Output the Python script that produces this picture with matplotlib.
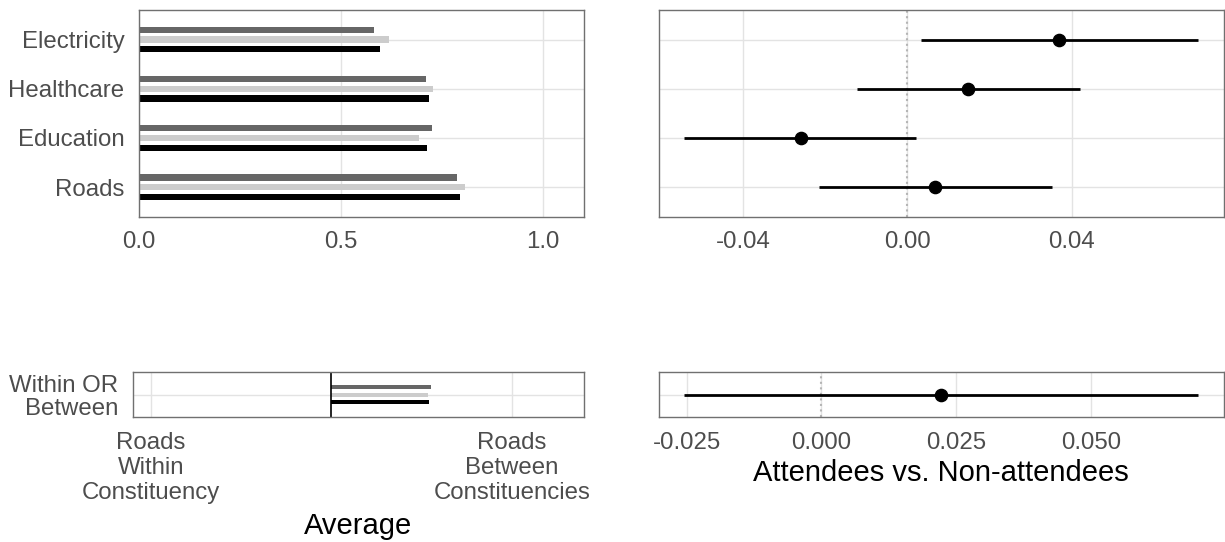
import numpy
import matplotlib
matplotlib.use('Agg')
import matplotlib.pyplot as plt

plt.rcParams['font.family'] = ['Liberation Sans', 'DejaVu Sans']

# ---- data ----
categories = ['Roads', 'Education', 'Healthcare', 'Electricity']
avg_dark = [0.787, 0.726, 0.710, 0.582]
avg_light = [0.807, 0.692, 0.728, 0.619]
avg_black = [0.795, 0.712, 0.717, 0.596]

diff_est = [0.0068, -0.0260, 0.0148, 0.0369]
diff_lo = [-0.0215, -0.0543, -0.0124, 0.0032]
diff_hi = [0.0353, 0.0022, 0.0419, 0.0708]

wb_label = 'Within OR\nBetween'
wb_ticklabels = ['Roads\nWithin\nConstituency', 'Roads\nBetween\nConstituencies']
wb_dark = 0.775
wb_light = 0.769
wb_black = 0.772
wb_base = 0.5

wb_est = 0.0222
wb_lo = -0.0254
wb_hi = 0.0699

# ---- styling ----
W, H = 1225, 542
cdark = '#666666'
clight = '#cccccc'
cblack = '#000000'
gridc = '#e3e3e3'
framec = '#707070'
tickc = '#4d4d4d'
tfs = 17.3
lfs = 21

fig = plt.figure(figsize=(W/100.0, H/100.0), dpi=100)

def px_axes(x0, y0, x1, y1):
    return fig.add_axes([x0/W, 1 - y1/H, (x1-x0)/W, (y1-y0)/H])

def style(ax):
    for s in ax.spines.values():
        s.set_color(framec)
        s.set_linewidth(1.0)
    ax.tick_params(length=0, labelsize=tfs, labelcolor=tickc, pad=10.5)
    ax.set_axisbelow(True)
    ax.grid(True, color=gridc, linewidth=1.0)

def expand(lo, hi, f=0.05):
    r = hi - lo
    return lo - f*r, hi + f*r

ypos = numpy.arange(len(categories)) + 1
off = 0.198
bh = 0.127

# top-left: averages
ax1 = px_axes(139, 10, 583.5, 216.7)
style(ax1)
ax1.barh(ypos + off, avg_dark, height=bh, color=cdark)
ax1.barh(ypos, avg_light, height=bh, color=clight)
ax1.barh(ypos - off, avg_black, height=bh, color=cblack)
ax1.set_xlim(0, 1.1)
ax1.set_ylim(0.4, len(categories) + 0.6)
ax1.set_xticks([0.0, 0.5, 1.0])
ax1.set_xticklabels(['0.0', '0.5', '1.0'])
ax1.set_yticks(ypos)
ax1.set_yticklabels(categories)

# top-right: differences
ax2 = px_axes(658.7, 10, 1224, 216.7)
style(ax2)
ax2.axvline(0, color='#b5b5b5', linestyle=':', linewidth=1.5, zorder=1)
ax2.hlines(ypos, diff_lo, diff_hi, color='black', linewidth=2.0, zorder=3)
ax2.plot(diff_est, ypos, 'o', color='black', markersize=8.8, zorder=4)
ax2.set_xlim(*expand(min(diff_lo), max(diff_hi)))
ax2.set_ylim(0.4, len(categories) + 0.6)
ax2.set_xticks([-0.04, 0.0, 0.04])
ax2.set_xticklabels(['-0.04', '0.00', '0.04'])
ax2.set_yticks(ypos)
ax2.set_yticklabels([])

# bottom-left: within or between
ax3 = px_axes(132.7, 372, 584, 417.3)
style(ax3)
boff = 0.2
bbh = 0.11
ax3.barh([1 + boff], [wb_dark - wb_base], left=wb_base, height=bbh, color=cdark)
ax3.barh([1], [wb_light - wb_base], left=wb_base, height=bbh, color=clight)
ax3.barh([1 - boff], [wb_black - wb_base], left=wb_base, height=bbh, color=cblack)
ax3.axvline(wb_base, color='black', linewidth=1.2)
ax3.set_xlim(-0.05, 1.2)
ax3.set_ylim(0.4, 1.6)
ax3.set_xticks([0, 1])
ax3.set_xticklabels(wb_ticklabels, linespacing=1.18)
ax3.set_yticks([1])
ax3.set_yticklabels([wb_label], linespacing=1.05)
ax3.set_xlabel('Average', fontsize=lfs, labelpad=6)

# bottom-right: difference
ax4 = px_axes(658.7, 372, 1224, 417.3)
style(ax4)
ax4.axvline(0, color='#b5b5b5', linestyle=':', linewidth=1.5, zorder=1)
ax4.hlines([1], [wb_lo], [wb_hi], color='black', linewidth=2.0, zorder=3)
ax4.plot([wb_est], [1], 'o', color='black', markersize=8.8, zorder=4)
ax4.set_xlim(*expand(wb_lo, wb_hi))
ax4.set_ylim(0.4, 1.6)
ax4.set_xticks([-0.025, 0.0, 0.025, 0.05])
ax4.set_xticklabels(['-0.025', '0.000', '0.025', '0.050'])
ax4.set_yticks([1])
ax4.set_yticklabels([])
ax4.set_xlabel('Attendees vs. Non-attendees', fontsize=lfs, labelpad=4)

fig.savefig('out.png', dpi=100)
